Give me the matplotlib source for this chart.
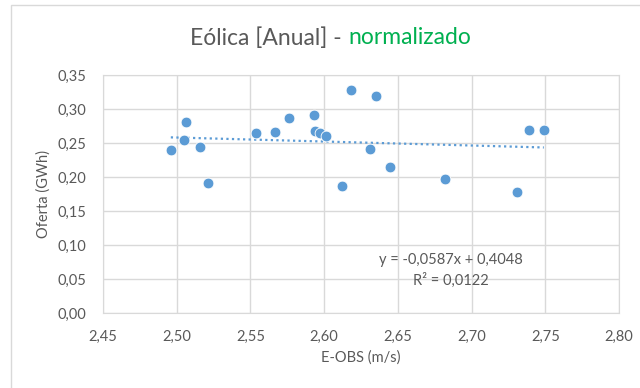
import numpy as np
import matplotlib
matplotlib.use('Agg')
import matplotlib.pyplot as plt
from matplotlib.ticker import FuncFormatter, MultipleLocator
from matplotlib.patches import Rectangle

# data
eobs = [2.496, 2.506, 2.505, 2.516, 2.521, 2.554, 2.567, 2.576, 2.593, 2.594, 2.597,
        2.601, 2.612, 2.618, 2.635, 2.631, 2.645, 2.682, 2.731, 2.739, 2.749]
oferta = [0.240, 0.281, 0.254, 0.244, 0.191, 0.265, 0.266, 0.287, 0.291, 0.268, 0.265,
          0.260, 0.187, 0.328, 0.319, 0.241, 0.215, 0.197, 0.178, 0.269, 0.269]
slope, intercept = -0.0587, 0.4048
eq_label = "y = -0,0587x + 0,4048"
r2_label = "R² = 0,0122"

gray = '#595959'
grid = '#D9D9D9'
blue = '#5B9BD5'
plt.rcParams['font.family'] = ['Lato', 'DejaVu Sans']

fig = plt.figure(figsize=(6.4, 3.88), dpi=100)
fig.patches.append(Rectangle((11/640, -0.1), 1.2, 1 - 5/388 + 0.1, transform=fig.transFigure,
                             fill=False, edgecolor=grid, linewidth=1))
ax = fig.add_axes([103/640, 1 - 313/388, (619 - 103)/640, (313 - 75)/388])

x = np.array(eobs)
y = np.array(oferta)
xs = np.array([x.min(), x.max()])
ax.plot(xs, slope*xs + intercept, linestyle=(0, (1, 1.5)), color=blue, linewidth=1.6, zorder=2)
ax.scatter(x, y, s=60, color=blue, edgecolor='white', linewidth=0.6, zorder=3)

ax.set_xlim(2.45, 2.80)
ax.set_ylim(0, 0.35)
ax.xaxis.set_major_locator(MultipleLocator(0.05))
ax.yaxis.set_major_locator(MultipleLocator(0.05))
fmt = FuncFormatter(lambda v, p: f'{v:.2f}'.replace('.', ','))
ax.xaxis.set_major_formatter(fmt)
ax.yaxis.set_major_formatter(fmt)
ax.grid(True, color=grid, linewidth=1)
ax.set_axisbelow(True)
for s in ax.spines.values():
    s.set_color(grid)
ax.tick_params(length=0, labelsize=10.5, colors=gray, pad=12)
ax.tick_params(axis='y', pad=12)

ax.set_xlabel('E-OBS (m/s)', fontsize=10.5, color=gray, labelpad=5)
ax.set_ylabel('Oferta (GWh)', fontsize=10.5, color=gray, labelpad=5)

ax.text(2.686, 0.078, eq_label, ha='center', va='center', fontsize=10.5, color=gray)
ax.text(2.686, 0.0485, r2_label, ha='center', va='center', fontsize=10.5, color=gray)

fig.text(347/640, 1 - 38/388, 'Eólica [Anual] - ', ha='right', va='center', fontsize=16.5, color=gray)
fig.text(348/640, 1 - 38/388, 'normalizado', ha='left', va='center', fontsize=16.5, color='#00B050')

fig.savefig('out.png', dpi=100)
